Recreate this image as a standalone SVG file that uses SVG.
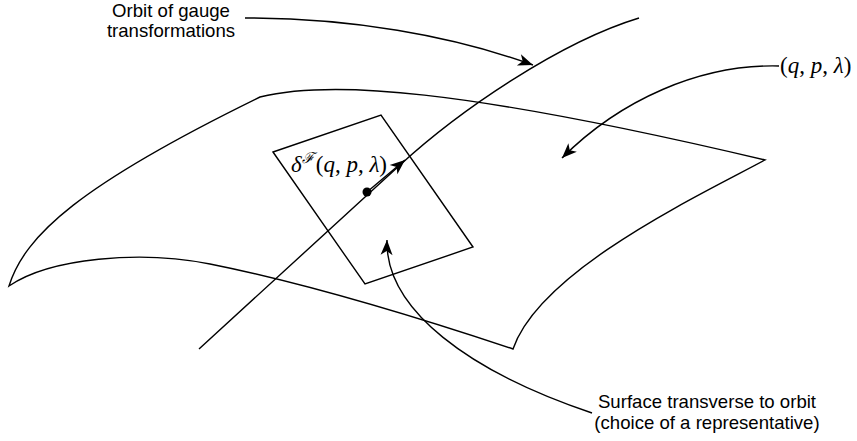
<svg xmlns="http://www.w3.org/2000/svg" width="857" height="441" viewBox="0 0 857 441">
<style>
.ln{fill:none;stroke:#000;stroke-width:1.4;stroke-linejoin:miter}
.lbl{font-family:"Liberation Sans",Arial,sans-serif;font-size:18.6px;fill:#000;text-anchor:middle}
.math{font-family:"Liberation Serif","Times New Roman",serif;font-size:23px;fill:#000}
.it{font-style:italic}
</style>
<defs>
<marker id="arr" markerUnits="userSpaceOnUse" markerWidth="18" markerHeight="14" viewBox="-15 -7 17 14" refX="0" refY="0" orient="auto">
<path d="M-15,-6 L0,0 L-15,6 L-11,0 Z" fill="#000"/>
</marker>
</defs>
<g id="surface">
<path class="ln" d="M9,286 C25,235 80,185 260,97 C330,80 460,88 765,160 C700,195 540,270 513,349 C420,318 300,282 210,264 C140,250 50,258 9,286 Z"/>
</g>
<g id="transverse-surface">
<path class="ln" d="M273,152 L381,115 L473,247 L365,284 Z"/>
</g>
<g id="orbit">
<path class="ln" d="M199,349 L400,165 C460,110 560,42 639,18"/>
</g>
<g id="point">
<circle cx="367" cy="192" r="4.5" fill="#000"/>
<line class="ln" x1="367" y1="192" x2="405" y2="160" marker-end="url(#arr)"/>
<text class="math" x="291" y="172"><tspan class="it">δ</tspan><tspan class="it" font-size="15" dy="-9">ℱ</tspan><tspan dy="9" dx="2">(</tspan><tspan class="it">q</tspan>, <tspan class="it">p</tspan>, <tspan class="it">λ</tspan>)</text>
</g>
<g id="label-orbit">
<text class="lbl" x="171" y="17">Orbit of gauge</text>
<text class="lbl" x="171" y="37">transformations</text>
</g>
<g id="label-qpl">
<text class="math" x="780" y="73">(<tspan class="it">q</tspan>, <tspan class="it">p</tspan>, <tspan class="it">λ</tspan>)</text>
</g>
<g id="label-surface">
<text class="lbl" x="707" y="408">Surface transverse to orbit</text>
<text class="lbl" x="707" y="429">(choice of a representative)</text>
</g>
<g id="connectors">
<path class="ln" d="M245,18 C350,18 450,35 533,65" marker-end="url(#arr)"/>
<path class="ln" d="M779,66 C700,64 620,100 562,158" marker-end="url(#arr)"/>
<path class="ln" d="M592,413 C470,372 385,310 387,240" marker-end="url(#arr)"/>
</g>
</svg>
